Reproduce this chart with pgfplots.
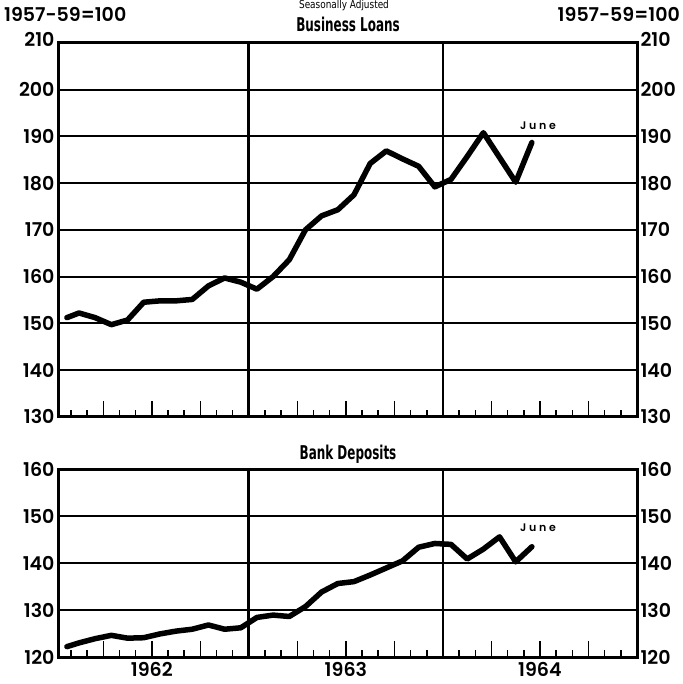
\documentclass[border=0pt]{standalone}
\usepackage{fontspec}
\setmainfont{Poppins SemiBold}
\newfontfamily\junefont{Poppins SemiBold}[LetterSpace=25]
\newfontfamily\condfont{DejaVu Sans Condensed}
\usepackage{graphicx}
\usepackage{pgfplots}
\pgfplotsset{compat=1.18}
\newcommand\tickfont{\fontsize{19}{20}\selectfont}
\newcommand\ttlfont{\condfont\bfseries\fontsize{19}{20}\selectfont}
\pgfplotsset{
  panel/.style={
    scale only axis, width=579pt, xmin=0.2, xmax=36,
    axis line style={line width=3pt, black},
    ymajorgrids, major grid style={line width=2pt, black},
    ytick style={draw=none},
    tick label style={font=\tickfont},
    xtick pos=bottom, xtick align=inside,
    xtick={3,6,9,15,18,21,27,30,33},
    minor xtick={1,2,4,5,7,8,10,11,13,14,16,17,19,20,22,23,25,26,28,29,31,32,34,35},
    major tick length=16pt, minor tick length=7pt,
    xtick style={line width=1.5pt, black},
    extra x ticks={12,24}, extra x tick labels={},
    extra x tick style={grid=major, major grid style={line width=2.8pt, black}, major tick length=0pt},
  },
  rlabels/.style={
    scale only axis, width=579pt, xmin=0.2, xmax=36,
    axis line style={draw=none}, xtick=\empty,
    ytick style={draw=none}, yticklabel pos=right,
    tick label style={font=\tickfont},
  }
}
\begin{document}
\begin{tikzpicture}[x=1pt,y=1pt]
% ---------- Business Loans ----------
\begin{axis}[panel, at={(58pt,267.3pt)}, anchor=south west, height=373.7pt,
  ymin=130, ymax=210, ytick={130,140,...,210},
  yticklabels={130,140,150,160,170,180,190,200,\raisebox{7pt}{210}},
  xticklabels={}]
\addplot[line width=5.5pt, line join=round, line cap=round, black] table {
x y
0.75 151.2
1.5 152.2
2.5 151.2
3.5 149.7
4.5 150.7
5.5 154.5
6.5 154.8
7.5 154.8
8.5 155.1
9.5 158.0
10.5 159.7
11.5 158.8
12.5 157.3
13.5 160.0
14.5 163.6
15.5 170.0
16.5 173.0
17.5 174.3
18.5 177.5
19.5 184.2
20.5 186.9
21.5 185.2
22.5 183.6
23.5 179.2
24.5 180.8
25.5 185.7
26.5 190.8
27.5 185.5
28.5 180.2
29.5 188.7
};
\end{axis}
\begin{axis}[rlabels, at={(58pt,267.3pt)}, anchor=south west, height=373.7pt,
  ymin=130, ymax=210, ytick={130,140,...,210},
  yticklabels={130,140,150,160,170,180,190,200,\raisebox{7pt}{210}}]
\end{axis}
% ---------- Bank Deposits ----------
\begin{axis}[panel, at={(58pt,26.5pt)}, anchor=south west, height=188.5pt,
  ymin=120, ymax=160, ytick={120,130,...,160},
  yticklabels={120,130,140,150,160},
  xticklabels={{},1962,{},{},1963,{},{},1964,{}},
  xticklabel style={yshift=-1pt}]
\addplot[line width=5.5pt, line join=round, line cap=round, black] table {
x y
0.75 122.3
1.5 123.1
2.5 124.0
3.5 124.7
4.5 124.1
5.5 124.2
6.5 125.0
7.5 125.6
8.5 126.0
9.5 126.9
10.5 126.0
11.5 126.3
12.5 128.5
13.5 129.0
14.5 128.7
15.5 130.8
16.5 133.9
17.5 135.7
18.5 136.1
19.5 137.5
20.5 139.0
21.5 140.5
22.5 143.4
23.5 144.2
24.5 144.0
25.5 140.9
26.5 143.0
27.5 145.6
28.5 140.3
29.5 143.5
};
\end{axis}
\begin{axis}[rlabels, at={(58pt,26.5pt)}, anchor=south west, height=188.5pt,
  ymin=120, ymax=160, ytick={120,130,...,160},
  yticklabels={120,130,140,150,160}]
\end{axis}
% ---------- texts ----------
\node[anchor=base] at (344,675) {\condfont\fontsize{11}{12}\selectfont\scalebox{0.9}[1]{Seasonally Adjusted}};
\node[anchor=base] at (348,652) {\ttlfont\scalebox{0.7}[1]{Business Loans}};
\node[anchor=base] at (348,224) {\ttlfont\scalebox{0.7}[1]{Bank Deposits}};
\node[anchor=base west, inner sep=0pt] at (4,662) {\tickfont 1957-59=100};
\node[anchor=base east, inner sep=0pt] at (680,662) {\tickfont 1957-59=100};
\node[anchor=center] at (538,558) {\junefont\fontsize{11}{12}\selectfont June};
\node[anchor=center] at (538,156) {\junefont\fontsize{11}{12}\selectfont June};
\pgfresetboundingbox
\path[use as bounding box] (0,0) rectangle (682,684);
\end{tikzpicture}
\end{document}
